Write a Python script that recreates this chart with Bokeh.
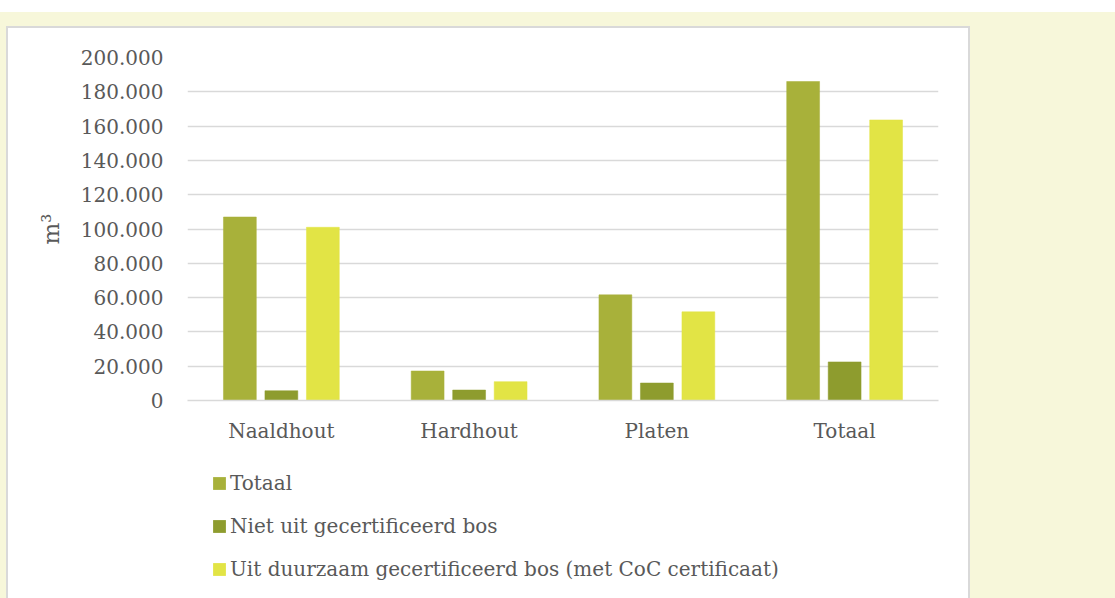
from bokeh.plotting import figure
from bokeh.models import (FactorRange, Range1d, FixedTicker, Legend, LegendItem,
                          ColumnDataSource, GlobalInlineStyleSheet)
from bokeh.layouts import column
from bokeh.transform import dodge
from bokeh.embed import file_html
from bokeh.resources import INLINE

categories = ["Naaldhout", "Hardhout", "Platen", "Totaal"]
totaal = [107000, 17200, 61600, 186000]
niet_gecertificeerd = [5700, 6100, 10200, 22500]
duurzaam_gecertificeerd = [101000, 11000, 51700, 163600]
series_names = ["Totaal", "Niet uit gecertificeerd bos",
                "Uit duurzaam gecertificeerd bos (met CoC certificaat)"]
series_colors = ["#a8b13a", "#8e9c2e", "#e2e445"]
y_ticks = [0, 20000, 40000, 60000, 80000, 100000, 120000, 140000, 160000, 180000, 200000]
y_tick_labels = ["0", "20.000", "40.000", "60.000", "80.000", "100.000", "120.000",
                 "140.000", "160.000", "180.000", "200.000"]

FONT = "DejaVu Serif"
FS = "20px"
TXT = "#595959"
GRID = "#d9d9d9"

source = ColumnDataSource(dict(cat=categories, a=totaal, b=niet_gecertificeerd,
                               c=duurzaam_gecertificeerd))

css = GlobalInlineStyleSheet(css="""
html { background: linear-gradient(to bottom, #ffffff 0px, #ffffff 12px, #f7f7da 12px, #f7f7da 100%); min-height: 100%; }
body { background: transparent; }
""")

# main chart
p = figure(x_range=FactorRange(*categories), y_range=Range1d(0, 200000),
           width=960, height=419, output_backend="svg", toolbar_location=None,
           min_border_left=179, min_border_right=30, min_border_top=29,
           min_border_bottom=47, border_fill_color="white",
           background_fill_color="white", outline_line_color=None)

bw = 0.175
off = 0.221
cols = ["a", "b", "c"]
offsets = [-off, 0, off]
for col, o, color in zip(cols, offsets, series_colors):
    p.vbar(x=dodge("cat", o, range=p.x_range), top=col, width=bw, source=source,
           fill_color=color, line_color=color, line_width=0.5)

p.xgrid.grid_line_color = None
p.ygrid.grid_line_color = GRID
p.ygrid.grid_line_width = 1.3

p.yaxis.ticker = FixedTicker(ticks=y_ticks)
p.yaxis.major_label_overrides = {t: l for t, l in zip(y_ticks, y_tick_labels)}
p.yaxis.axis_line_color = None
p.yaxis.major_tick_line_color = None
p.yaxis.minor_tick_line_color = None
p.yaxis.major_label_standoff = 18
p.yaxis.axis_label = "m³"
p.yaxis.axis_label_standoff = 14
p.yaxis.axis_label_text_font = FONT
p.yaxis.axis_label_text_font_style = "normal"
p.yaxis.axis_label_text_font_size = "23px"
p.yaxis.axis_label_text_color = TXT

p.xaxis.axis_line_color = GRID
p.xaxis.axis_line_width = 1.3
p.xaxis.major_tick_line_color = None
p.xaxis.minor_tick_line_color = None
p.xaxis.major_label_standoff = 12

for ax in (p.xaxis, p.yaxis):
    ax.major_label_text_font = FONT
    ax.major_label_text_font_size = FS
    ax.major_label_text_color = TXT

# legend strip (same series, drawn outside its visible range so only the legend shows)
q = figure(x_range=FactorRange(*categories), y_range=Range1d(1e7, 2e7),
           width=960, height=160, output_backend="svg", toolbar_location=None,
           x_axis_location=None, y_axis_location=None,
           min_border_left=179, min_border_right=30, min_border_top=0,
           min_border_bottom=0, border_fill_color="white",
           background_fill_color="white", outline_line_color=None)
q.xgrid.grid_line_color = None
q.ygrid.grid_line_color = None
leg_renderers = []
for col, o, color in zip(cols, offsets, series_colors):
    r = q.vbar(x=dodge("cat", o, range=q.x_range), top=col, width=bw, source=source,
               fill_color=color, line_color=None)
    leg_renderers.append(r)

legend = Legend(items=[LegendItem(label=n, renderers=[r]) for n, r in zip(series_names, leg_renderers)],
                location="top_left", orientation="vertical",
                glyph_width=16, glyph_height=16, label_standoff=3, label_height=23,
                label_text_font=FONT, label_text_font_size=FS, label_text_color=TXT,
                spacing=19, padding=0, margin=24, border_line_color=None,
                background_fill_alpha=0)
q.add_layout(legend, "center")

root = column(p, q, spacing=0, stylesheets=[css],
              styles={"outline": "2px solid #d9d9d9", "margin-top": "28px",
                      "margin-left": "8px", "background-color": "white"})

open("out.html", "w").write(file_html(root, INLINE))
